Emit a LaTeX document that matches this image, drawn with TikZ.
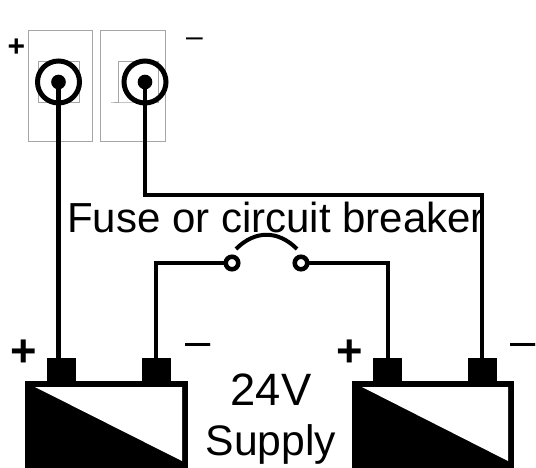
\documentclass[tikz,border=0pt]{standalone}
\usepackage{fontspec}
\setmainfont{Liberation Sans}
\tikzset{
    panel/.style={draw=gray!70, line width=0.75pt},
    wire/.style={line width=3.6pt, line join=miter},
    fusewire/.style={line width=3pt},
    post/.style={fill=black, minimum width=21.75pt, minimum height=17.25pt, inner sep=0pt},
    lug/.style={circle, draw, line width=3.75pt, minimum size=31.5pt, inner sep=0pt},
    pin/.style={circle, fill=black, minimum size=11pt, inner sep=0pt},
    contact/.style={circle, draw, line width=3.4pt, fill=white, minimum size=9.4pt, inner sep=0pt},
    label/.style={inner sep=0pt, font=\fontsize{32}{32}\selectfont},
    smallsign/.style={inner sep=0pt, font=\fontsize{22.5}{22.5}\selectfont},
    bigsign/.style={inner sep=0pt, font=\fontsize{34}{34}\selectfont}
}
\begin{document}
\begin{tikzpicture}[x=0.75pt, y=-0.75pt]
        \useasboundingbox (0,0) rectangle (536,468);
        \clip (0,0) rectangle (536,468);

        % Draw the two panels
        \draw[panel] (28,30) rectangle (92,141);
        \draw[panel] (100.5,30) rectangle (165,141);
        \draw[panel] (38,61) rectangle (79,102);
        \draw[panel] (111,102) -- (118,102) -- (118,61) -- (158,61) -- (158,102) -- cycle;

        % Draw the batteries
        \fill (25,381) rectangle (188,470);
        \fill[white] (35,387) -- (182,387) -- (182,461) -- cycle;
        \fill (352,381) rectangle (514,470);
        \fill[white] (362,387) -- (508,387) -- (508,461) -- cycle;

        % Battery posts
        \node[post] (plusa) at (61.5,369.5) {};
        \node[post] (minusa) at (156,369.5) {};
        \node[post] (plusb) at (387.5,369.5) {};
        \node[post] (minusb) at (482,369.5) {};

        % Terminals and fuse contacts
        \node[lug] (lugplus) at (58.5,82) {};
        \node[lug] (lugminus) at (145,82) {};
        \node[pin] (pinplus) at (58.5,82) {};
        \node[pin] (pinminus) at (145,82) {};

        % Wires
        \draw[wire] (pinplus.center) -- (pinplus.center |- plusa.north);
        \draw[wire] (pinminus.center) |- (minusb.north |- 0,195) -- (minusb.north);
        \coordinate (arca) at (236,249);
        \coordinate (arcb) at (297,249);
        \draw[fusewire] (232,263) -| (minusa.north);
        \draw[fusewire] (301,263) -| (plusb.north);
        \draw[fusewire] (arca) .. controls (255,230) and (278,230) .. (arcb);
        \node[contact] (fusea) at (232,263) {};
        \node[contact] (fuseb) at (301,263) {};

        % Labels
        \node[label, anchor=base, font=\fontsize{31.5}{31.5}\selectfont] (title) at (276,232) {Fuse or circuit breaker};
        \node[label, anchor=base, font=\fontsize{34}{34}\selectfont] (volts) at (271,405) {24V};
        \node[label, anchor=base] (supply) at (271,455) {Supply};
        \node[smallsign] (signa) at (16.5,48) {\bfseries +};
        \node[smallsign] (signb) at (194.5,42) {–};
        \node[bigsign] (signc) at (24,353.5) {\bfseries +};
        \node[bigsign] (signd) at (350,353.5) {\bfseries +};
        \node[bigsign] (signe) at (198,350) {–};
        \node[bigsign] (signf) at (523,350) {–};
        \end{tikzpicture}
\end{document}
